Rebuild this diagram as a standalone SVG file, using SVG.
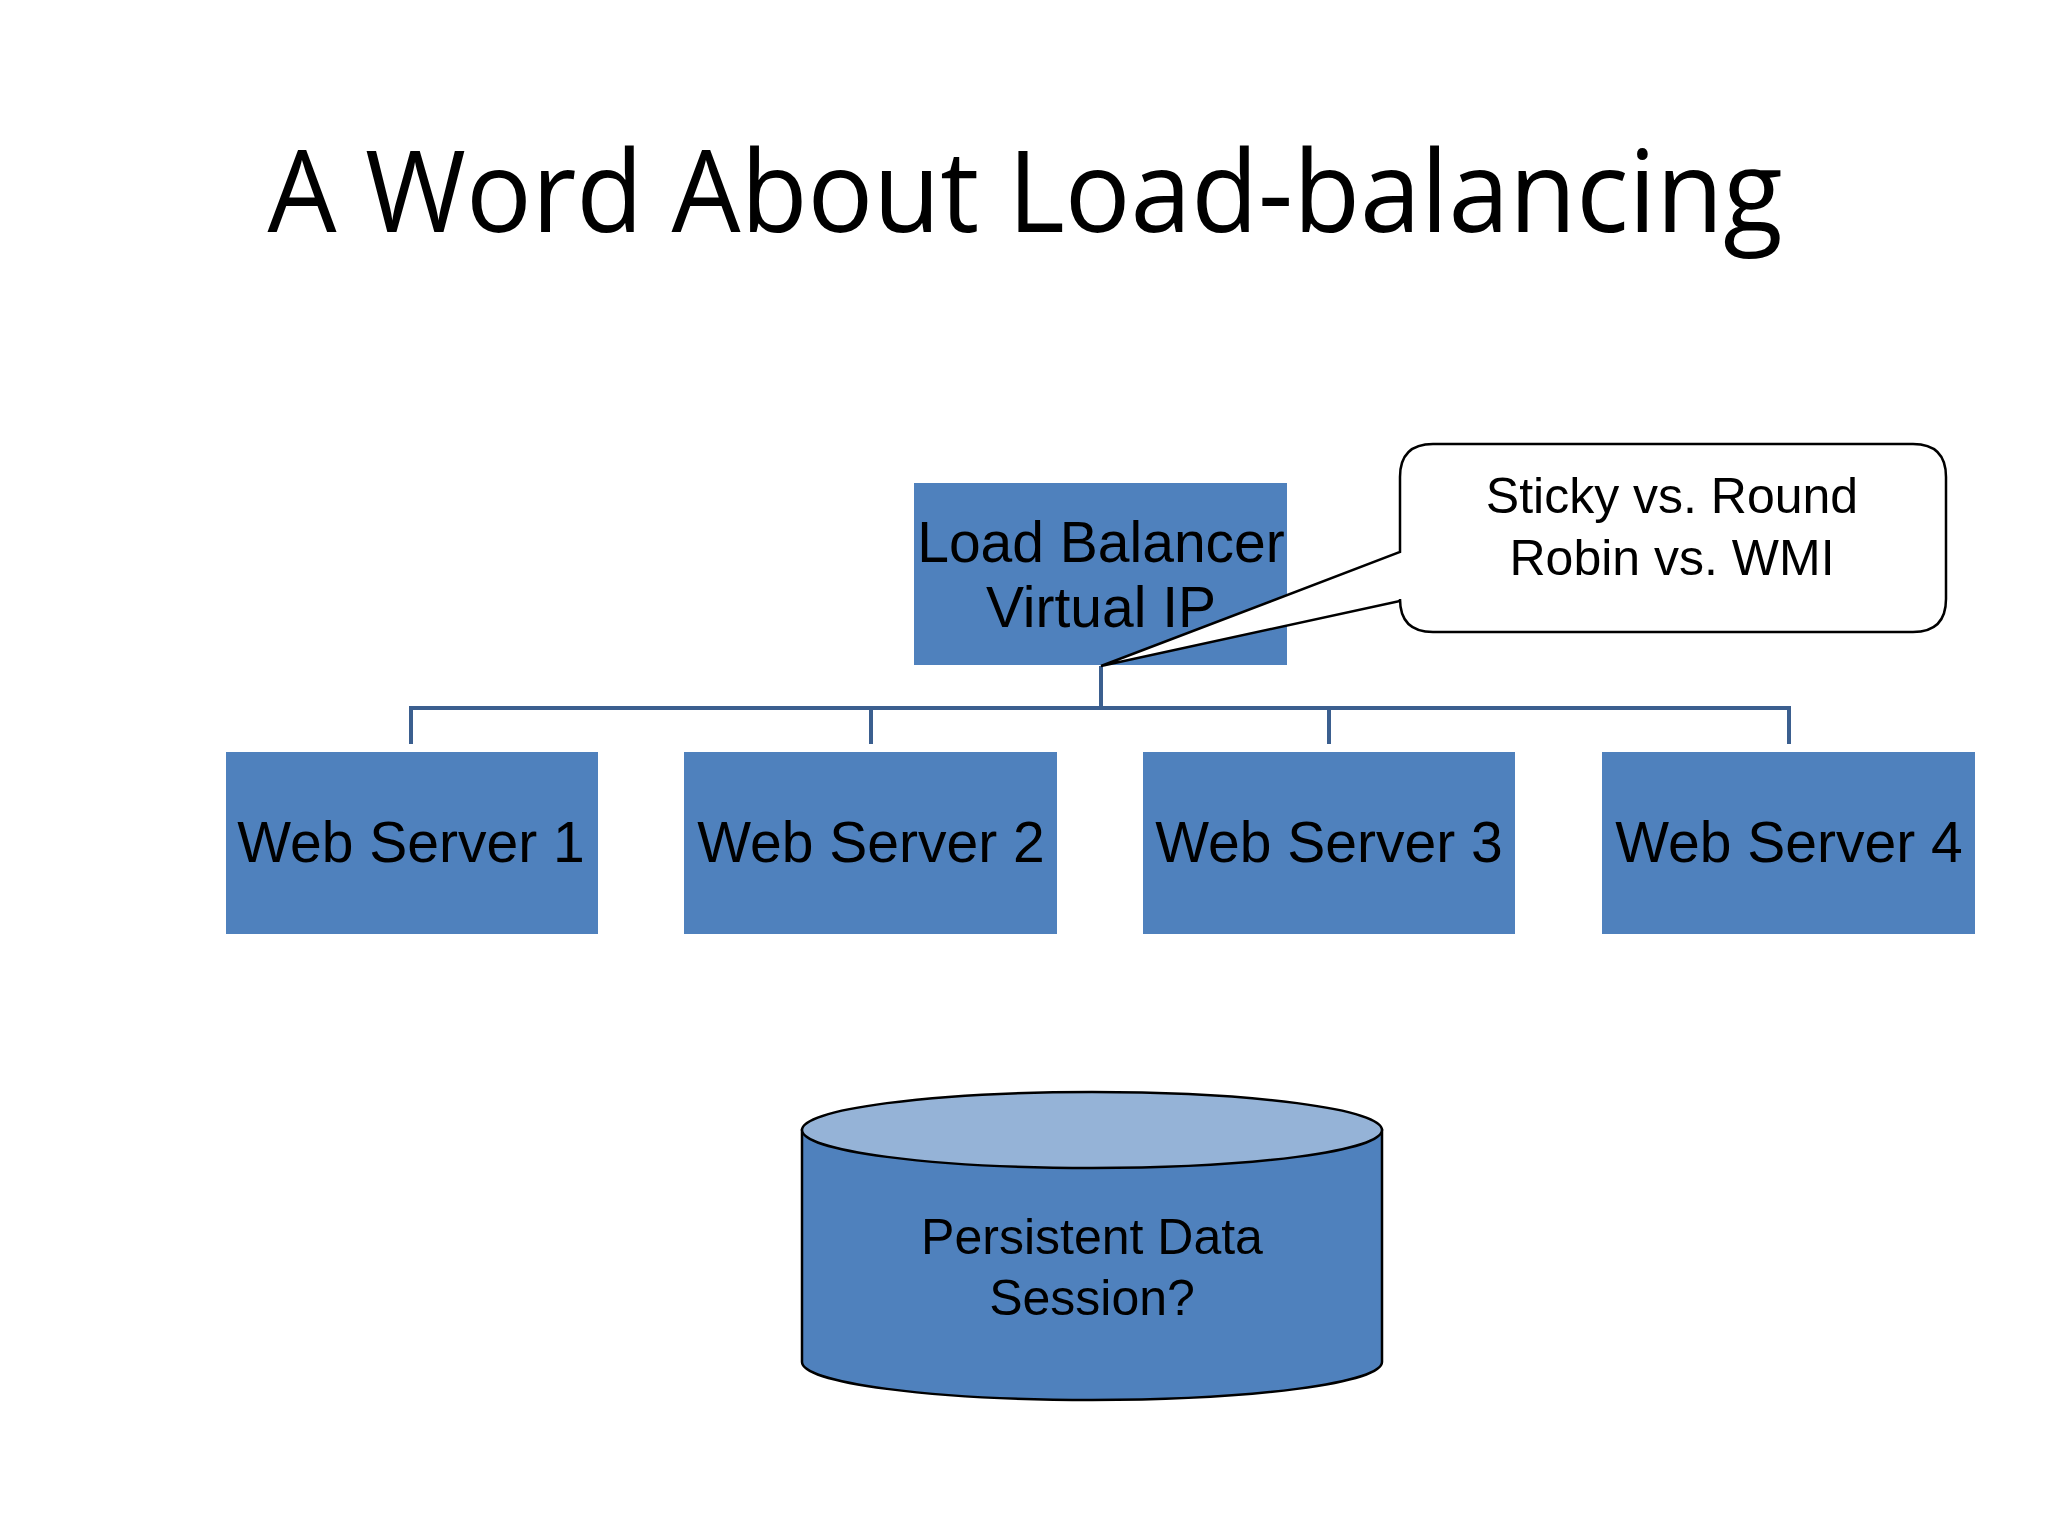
<svg xmlns="http://www.w3.org/2000/svg" width="2048" height="1536" viewBox="0 0 2048 1536">
<style>
.box{fill:#4f81bd}
.t{font-family:"Liberation Sans",Arial,sans-serif;fill:#000;text-anchor:middle}
.c{stroke:#3b5f8f;stroke-width:4;fill:none}
</style>
<rect width="2048" height="1536" fill="#fff"/>
<text x="1025" y="232" font-family="'Open Sans','Noto Sans',sans-serif" font-size="114" text-anchor="middle" textLength="1515" lengthAdjust="spacingAndGlyphs">A Word About Load-balancing</text>
<g id="connectors">
<path class="c" d="M1101 666V708M411 744V708H1789V744M871 708V744M1329 708V744"/>
</g>
<g id="lb">
<rect class="box" x="914" y="483" width="373" height="182"/>
<text class="t" x="1101" y="562" font-size="57">Load Balancer</text>
<text class="t" x="1101" y="627" font-size="57">Virtual IP</text>
</g>
<g id="callout">
<path d="M1433 444H1913Q1946 444 1946 477V599Q1946 632 1913 632H1433Q1400 632 1400 599V601L1101 666L1400 552V477Q1400 444 1433 444Z" fill="#fff" stroke="#000" stroke-width="2.5"/>
<text class="t" x="1672" y="513" font-size="50">Sticky vs. Round</text>
<text class="t" x="1672" y="575" font-size="50">Robin vs. WMI</text>
</g>
<g id="ws1"><rect class="box" x="226" y="752" width="372" height="182"/><text class="t" x="411" y="862" font-size="57">Web Server 1</text></g>
<g id="ws2"><rect class="box" x="684" y="752" width="373" height="182"/><text class="t" x="871" y="862" font-size="57">Web Server 2</text></g>
<g id="ws3"><rect class="box" x="1143" y="752" width="372" height="182"/><text class="t" x="1329" y="862" font-size="57">Web Server 3</text></g>
<g id="ws4"><rect class="box" x="1602" y="752" width="373" height="182"/><text class="t" x="1789" y="862" font-size="57">Web Server 4</text></g>
<g id="db">
<path d="M802 1130V1362A290 38 0 0 0 1382 1362V1130Z" fill="#4f81bd" stroke="#000" stroke-width="2.5"/>
<ellipse cx="1092" cy="1130" rx="290" ry="38" fill="#95b3d7" stroke="#000" stroke-width="2.5"/>
<text class="t" x="1092" y="1254" font-size="50">Persistent Data</text>
<text class="t" x="1092" y="1315" font-size="50">Session?</text>
</g>
</svg>
